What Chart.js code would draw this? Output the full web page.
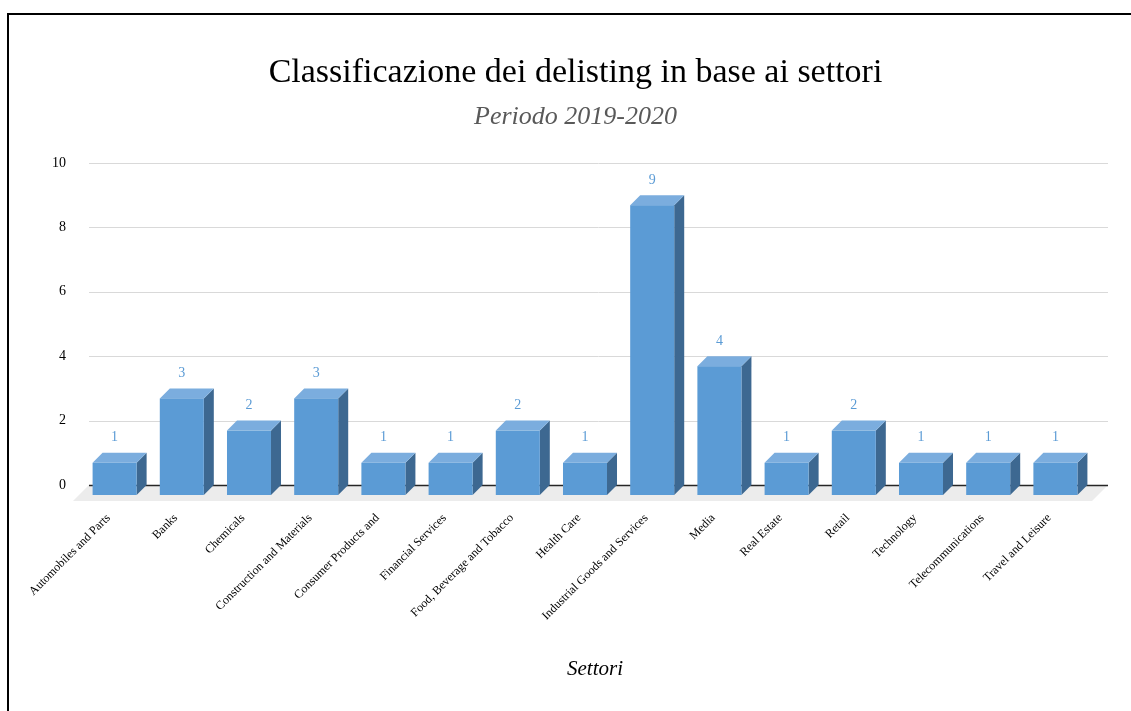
<!DOCTYPE html>
<html>
<head>
<meta charset="utf-8">
<script src="https://cdn.jsdelivr.net/npm/chart.js@4.4.1/dist/chart.umd.min.js"></script>
<style>
  html, body { margin: 0; padding: 0; background: #fff; }
  #wrap { position: relative; width: 1131px; height: 711px; overflow: hidden; }
  #frame { position: absolute; left: 7px; top: 13px; width: 1200px; height: 800px; border: 2px solid #000; box-sizing: border-box; }
  canvas { position: absolute; left: 0; top: 0; }
</style>
</head>
<body>
<div id="wrap">
  <div id="frame"></div>
  <canvas id="chart" width="1131" height="711"></canvas>
</div>
<script>
const sectors = [
  'Automobiles and Parts', 'Banks', 'Chemicals', 'Construction and Materials',
  'Consumer Products and', 'Financial Services', 'Food, Beverage and Tobacco',
  'Health Care', 'Industrial Goods and Services', 'Media', 'Real Estate',
  'Retail', 'Technology', 'Telecommunications', 'Travel and Leisure'
];
const delistings = [1, 3, 2, 3, 1, 1, 2, 1, 9, 4, 1, 2, 1, 1, 1];
const yMin = 0;
const yMax = 10;
const yStep = 2;

const serif = 'Liberation Serif';
const DEPTH = 10;
const FLOOR_DEPTH = 16;

// back wall grid + floor, drawn under the bars
const wallAndFloor = {
  id: 'wallAndFloor',
  beforeDatasetsDraw(chart) {
    const { ctx, chartArea: a, scales: { y } } = chart;
    const l = a.left - 2, r = a.right + 9;
    const y0 = y.getPixelForValue(0);
    ctx.save();
    ctx.fillStyle = '#ececec';
    ctx.beginPath();
    ctx.moveTo(l, y0);
    ctx.lineTo(r, y0);
    ctx.lineTo(r - FLOOR_DEPTH, y0 + FLOOR_DEPTH);
    ctx.lineTo(l - FLOOR_DEPTH, y0 + FLOOR_DEPTH);
    ctx.closePath();
    ctx.fill();
    y.ticks.forEach(t => {
      const py = Math.round(y.getPixelForValue(t.value)) + 0.5;
      ctx.strokeStyle = t.value === 0 ? '#262626' : '#d9d9d9';
      ctx.lineWidth = t.value === 0 ? 1.4 : 1;
      ctx.beginPath();
      ctx.moveTo(l, py);
      ctx.lineTo(r, py);
      ctx.stroke();
    });
    ctx.restore();
  }
};

// 3D boxes and value labels
const bars3d = {
  id: 'bars3d',
  afterDatasetsDraw(chart) {
    const { ctx } = chart;
    const meta = chart.getDatasetMeta(0);
    ctx.save();
    meta.data.forEach((bar, i) => {
      const { x, y, base, width } = bar.getProps(['x', 'y', 'base', 'width'], true);
      const bl = x - width / 2, br = x + width / 2;
      const fl = bl - DEPTH, fr = br - DEPTH, fy = y + DEPTH, fb = base + DEPTH;
      // side
      ctx.fillStyle = '#3d6891';
      ctx.beginPath();
      ctx.moveTo(fr, fy); ctx.lineTo(br, y); ctx.lineTo(br, base); ctx.lineTo(fr, fb);
      ctx.closePath(); ctx.fill();
      // top
      ctx.fillStyle = '#7badde';
      ctx.beginPath();
      ctx.moveTo(fl, fy); ctx.lineTo(bl, y); ctx.lineTo(br, y); ctx.lineTo(fr, fy);
      ctx.closePath(); ctx.fill();
      // front
      ctx.fillStyle = '#5b9bd5';
      ctx.fillRect(fl, fy, width, fb - fy);
      // value label
      ctx.fillStyle = '#5b9bd5';
      ctx.font = '14px "' + serif + '"';
      ctx.textAlign = 'center';
      ctx.textBaseline = 'middle';
      ctx.fillText(String(delistings[i]), x - DEPTH, y - 15);
    });
    ctx.restore();
  }
};

new Chart(document.getElementById('chart'), {
  type: 'bar',
  data: {
    labels: sectors,
    datasets: [{
      data: delistings,
      backgroundColor: 'rgba(0,0,0,0)',
      borderWidth: 0,
      categoryPercentage: 1,
      barPercentage: 0.655
    }]
  },
  options: {
    responsive: false,
    animation: false,
    layout: { padding: { left: 52, right: 32, top: 0, bottom: 0 } },
    plugins: {
      legend: { display: false },
      tooltip: { enabled: false },
      title: {
        display: true,
        text: 'Classificazione dei delisting in base ai settori',
        color: '#000',
        font: { family: serif, size: 34, weight: 'normal' },
        padding: { top: 53, bottom: 0 }
      },
      subtitle: {
        display: true,
        text: 'Periodo 2019-2020',
        color: '#595959',
        font: { family: serif, size: 26, style: 'italic' },
        padding: { top: 8, bottom: 30 }
      }
    },
    scales: {
      x: {
        grid: { display: false, drawTicks: false },
        border: { display: false },
        ticks: {
          color: '#000',
          font: { family: serif, size: 12 },
          minRotation: 45,
          maxRotation: 45,
          autoSkip: false,
          labelOffset: -16,
          padding: 26
        },
        title: {
          display: true,
          text: 'Settori',
          color: '#000',
          font: { family: serif, size: 21, style: 'italic' },
          padding: { top: 0, bottom: 29 }
        },
        afterFit(s) { s.height = 711 - 485; }
      },
      y: {
        min: yMin,
        max: yMax,
        grid: { display: false, drawTicks: false },
        border: { display: false },
        ticks: { stepSize: yStep, color: '#000', font: { family: serif, size: 14 }, padding: 25 },
        afterFit(s) { s.width = 91 - 52; }
      }
    }
  },
  plugins: [wallAndFloor, bars3d]
});
</script>
</body>
</html>
